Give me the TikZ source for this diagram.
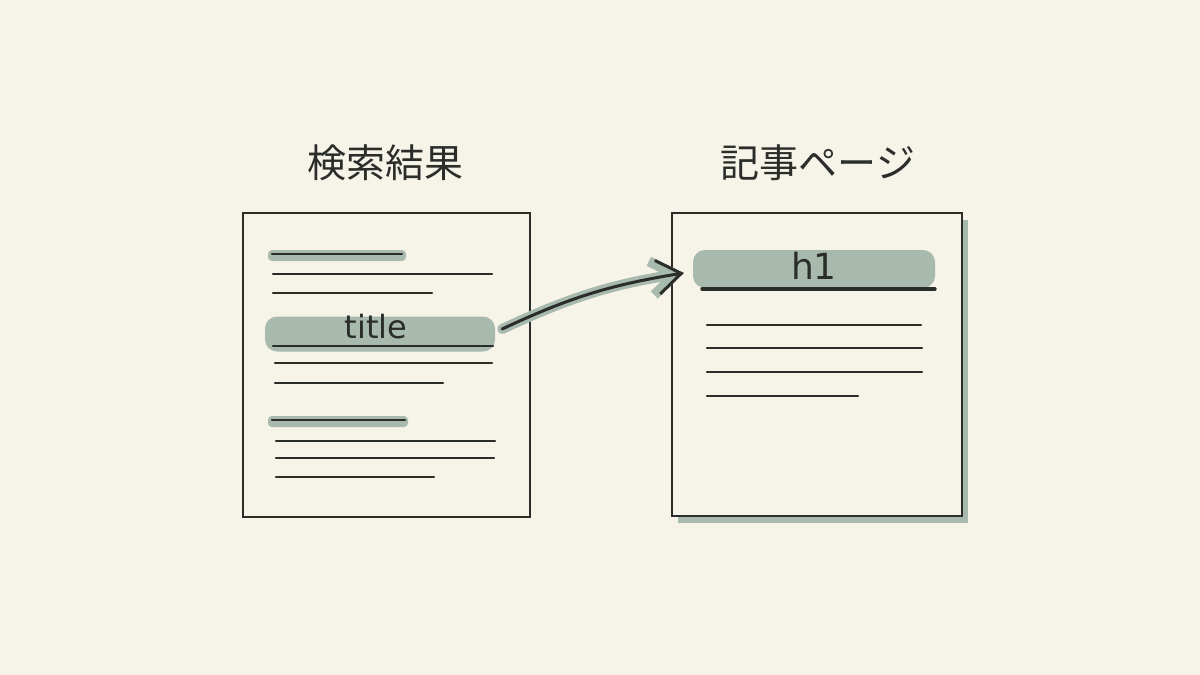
\documentclass[tikz,border=0pt]{standalone}
\usepackage{fontspec}
\setmainfont{DejaVu Sans}
\newfontfamily\jpfont{Noto Sans CJK JP}
\usetikzlibrary{positioning, arrows.meta}
\definecolor{paper}{HTML}{F6F3E8}
\definecolor{ink}{HTML}{2A2D29}
\definecolor{sage}{HTML}{A8BAAD}

\tikzset{
  pagebox/.style={draw=ink, line width=2.8pt, fill=paper},
  txtline/.style={draw=ink, line width=2.1pt, line cap=round},
  hlband/.style={fill=sage, rounded corners=12pt, inner sep=0pt},
  heading/.style={font=\jpfont\fontsize{39}{41}\selectfont, text=ink},
}

\begin{document}
\begin{tikzpicture}[x=1pt, y=-1pt]
        \fill[paper] (0,0) rectangle (1200,675); % background
        \useasboundingbox (0,0) rectangle (1200,675);

        % headings
        \node[heading] (resulthead) at (385,163) {検索結果};
        \node[heading] (articlehead) at (818,163) {記事ページ};

        % search results page
        \draw[pagebox] (243,213) rectangle (530,517);
        \fill[sage, rounded corners=4pt] (268,250) rectangle (406,261); % highlight of first heading
        \draw[txtline] (272,254) -- (402,254);
        \foreach \y/\xe in {274/492, 293/432}
            \draw[txtline] (273,\y) -- (\xe,\y);
        \node[hlband, minimum width=230pt, minimum height=35pt] (titlebar) at (380,334) {};
        \node[font=\fontsize{32}{34}\selectfont, text=ink] (titletext) at (376,327) {title};
        \draw[txtline] (273,346) -- (493,346); % line under title
        \foreach \y/\xe in {363/492, 383/443}
            \draw[txtline] (275,\y) -- (\xe,\y);
        \fill[sage, rounded corners=4pt] (268,416) rectangle (408,427); % highlight of second heading
        \draw[txtline] (272,420) -- (405,420);
        \foreach \y/\xe in {441/495, 458/494, 477/434}
            \draw[txtline] (276,\y) -- (\xe,\y);

        % article page
        \fill[sage] (678,220) rectangle (968,523); % shadow
        \draw[pagebox] (672,213) rectangle (962,516);
        \node[hlband, minimum width=242pt, minimum height=38pt] (h1bar) at (814,269) {};
        \node[font=\fontsize{36}{38}\selectfont, text=ink] (h1text) at (814,266) {h1};
        \draw[txtline, line width=3.4pt] (702,289) -- (935,289); % line under h1
        \foreach \y/\xe in {325/921, 348/922, 372/922, 396/858}
            \draw[txtline] (707,\y) -- (\xe,\y);

        % arrow from title to h1
        \draw[sage, line width=10pt, line cap=round, -{Straight Barb[length=24pt, width=34pt]}]
            ([xshift=7pt, yshift=5pt]titlebar.east) to[bend left=8] ([xshift=-9pt, yshift=-4pt]h1bar.west);
        \draw[ink, line width=3pt, line cap=round, -{Straight Barb[length=24pt, width=34pt]}]
            ([xshift=7pt, yshift=5pt]titlebar.east) to[bend left=8] ([xshift=-9pt, yshift=-4pt]h1bar.west);
\end{tikzpicture}
\end{document}
